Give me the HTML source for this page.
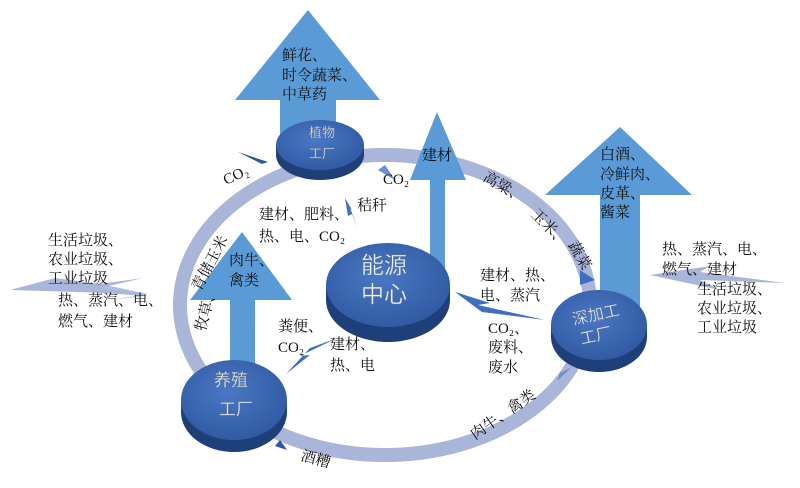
<!DOCTYPE html>
<html><head><meta charset="utf-8"><style>
html,body{margin:0;padding:0;background:#fff;}
svg{display:block;}
text{font-family:"Liberation Serif","Noto Serif CJK SC","Noto Sans CJK SC",serif;font-size:14px;fill:#111;}
.w{fill:#eef2f8;font-family:"Liberation Sans","Noto Sans CJK SC",sans-serif;stroke:#6a7a90;stroke-width:0.4;}
</style></head><body>
<svg width="800" height="488" viewBox="0 0 800 488" xmlns="http://www.w3.org/2000/svg">
<defs>
<linearGradient id="ar" x1="0" y1="0" x2="0" y2="1"><stop offset="0" stop-color="#5a9ad6"/><stop offset="1" stop-color="#5b9bd5"/></linearGradient>
<radialGradient id="disc" cx="0.45" cy="0.4" r="0.7"><stop offset="0" stop-color="#4a78c4"/><stop offset="1" stop-color="#2d569e"/></radialGradient>
</defs>
<ellipse cx="385" cy="305" rx="205" ry="150" fill="none" stroke="#a9b5d9" stroke-width="14"/>
<polygon points="308,10 380,100 336,100 336,140 280,140 280,100 235,100" fill="url(#ar)"/>
<polygon points="437,112 466,180 445,180 445,268 430,268 430,180 410,180" fill="url(#ar)"/>
<polygon points="620,127 692,195 640,195 640,310 600,310 600,195 545,195" fill="url(#ar)"/>
<polygon points="242,232 292,300 255,300 255,370 230,370 230,300 190,300" fill="url(#ar)"/>
<polygon points="10,290 145,294 100,288 143,278 100,284 55,278" fill="#a9b5d9"/>
<polygon points="10,290 110,286 148,294 110,300 145,296 60,290" fill="#a9b5d9" opacity="0.9"/>
<polygon points="650,275 710,266 700,272 785,283 700,280 720,290" fill="#a9b5d9"/>
<polygon points="345,198 352,210 350,208 358,228 352,214 348,216" fill="#3e6fc2"/>
<polygon points="455,292 490,303 478,305 545,320 482,312 490,318" fill="#3e6fc2"/>
<polygon points="286,374 310,355 300,356 337,338 305,350 310,348" fill="#3e6fc2"/>
<polygon points="238,152 268,162 262,164" fill="#2d569e"/>
<polygon points="385,165 395,180 378,170" fill="#6b8ed6"/>
<polygon points="580,270 595,280 580,285" fill="#3e6fc2"/>
<polygon points="560,373 572,367 557,381" fill="#6b8ed6"/>
<polygon points="280,440 287,450 275,446" fill="#2d569e"/>
<g>
<ellipse cx="320" cy="155" rx="44" ry="25" fill="#1f3f78"/>
<rect x="276" y="145" width="88" height="10" fill="#1f3f78"/>
<ellipse cx="320" cy="145" rx="44" ry="25" fill="url(#disc)"/>
<text x="322" y="137" class="w" text-anchor="middle" style="font-size:13px">植物</text>
<text x="322" y="158" class="w" text-anchor="middle" style="font-size:13px">工厂</text>
</g>
<g>
<ellipse cx="388" cy="300" rx="62" ry="42" fill="#1f3f78"/>
<rect x="326" y="285" width="124" height="15" fill="#1f3f78"/>
<ellipse cx="388" cy="285" rx="62" ry="42" fill="url(#disc)"/>
<text x="384" y="273" class="w" text-anchor="middle" style="font-size:23px">能源</text>
<text x="384" y="302" class="w" text-anchor="middle" style="font-size:23px">中心</text>
</g>
<g>
<ellipse cx="599" cy="337" rx="48" ry="35" fill="#1f3f78"/>
<rect x="551" y="325" width="96" height="12" fill="#1f3f78"/>
<ellipse cx="599" cy="325" rx="48" ry="35" fill="url(#disc)"/>
<text x="597" y="320" class="w" text-anchor="middle" style="font-size:16px" transform="rotate(-12 597 320)">深加工</text>
<text x="597" y="341" class="w" text-anchor="middle" style="font-size:16px" transform="rotate(-12 597 341)">工厂</text>
</g>
<g>
<ellipse cx="234" cy="412" rx="53" ry="40" fill="#1f3f78"/>
<rect x="181" y="400" width="106" height="12" fill="#1f3f78"/>
<ellipse cx="234" cy="400" rx="53" ry="40" fill="url(#disc)"/>
<text x="231" y="386" class="w" text-anchor="middle" style="font-size:17px">养殖</text>
<text x="236" y="415" class="w" text-anchor="middle" style="font-size:17px">工厂</text>
</g>
<text x="282" y="60" style="font-size:15px">鲜花、</text>
<text x="282" y="80" style="font-size:15px">时令蔬菜、</text>
<text x="282" y="99" style="font-size:15px">中草药</text>
<text x="226" y="185" transform="rotate(-25 226 185)" style="font-size:15px">CO₂</text>
<text x="383" y="184" style="font-size:15px">CO₂</text>
<text x="422" y="160" style="font-size:15px">建材</text>
<text x="357" y="210" style="font-size:15px">秸秆</text>
<text x="259" y="219" style="font-size:15px">建材、肥料、</text>
<text x="259" y="241" style="font-size:15px">热、电、CO₂</text>
<text x="229" y="265" style="font-size:15px">肉牛、</text>
<text x="229" y="285" style="font-size:15px">禽类</text>
<text x="48" y="245" style="font-size:15px">生活垃圾、</text>
<text x="48" y="264" style="font-size:15px">农业垃圾、</text>
<text x="48" y="283" style="font-size:15px">工业垃圾</text>
<text x="58" y="305" style="font-size:15px">热、蒸汽、电、</text>
<text x="58" y="326" style="font-size:15px">燃气、建材</text>
<text x="278" y="331" style="font-size:15px">粪便、</text>
<text x="278" y="352" style="font-size:15px">CO₂</text>
<text x="330" y="349" style="font-size:15px">建材、</text>
<text x="330" y="370" style="font-size:15px">热、电</text>
<text x="480" y="280" style="font-size:15px">建材、热、</text>
<text x="480" y="300" style="font-size:15px">电、蒸汽</text>
<text x="488" y="333" style="font-size:15px">CO₂、</text>
<text x="488" y="352" style="font-size:15px">废料、</text>
<text x="488" y="372" style="font-size:15px">废水</text>
<text x="600" y="159" style="font-size:15px">白酒、</text>
<text x="600" y="179" style="font-size:15px">冷鲜肉、</text>
<text x="600" y="198" style="font-size:15px">皮革、</text>
<text x="600" y="217" style="font-size:15px">酱菜</text>
<text x="662" y="254" style="font-size:15px">热、蒸汽、电、</text>
<text x="662" y="274" style="font-size:15px">燃气、建材</text>
<text x="697" y="294" style="font-size:15px">生活垃圾、</text>
<text x="697" y="313" style="font-size:15px">农业垃圾、</text>
<text x="697" y="332" style="font-size:15px">工业垃圾</text>
<text x="482" y="180" transform="rotate(30 482 180)" style="font-size:15px">高粱、</text>
<text x="530" y="215" transform="rotate(45 530 215)" style="font-size:15px">玉米、</text>
<text x="568" y="245" transform="rotate(60 568 245)" style="font-size:15px">蔬菜</text>
<text x="205" y="332" transform="rotate(-75 205 332)" style="font-size:15px">牧草、</text>
<text x="200" y="292" transform="rotate(-62 200 292)" style="font-size:15px">青储玉米</text>
<text x="300" y="460" transform="rotate(15 300 460)" style="font-size:15px">酒糟</text>
<text x="475" y="440" transform="rotate(-35 475 440)" style="font-size:15px">肉牛、禽类</text>
</svg>
</body></html>
